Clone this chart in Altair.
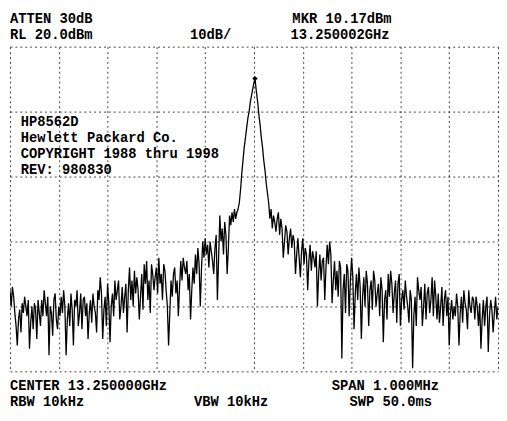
import altair as alt
import pandas as pd

# Sweep: offset from centre (kHz), 2.5 kHz per trace point (401 points over 1 MHz span)
FREQ_START_KHZ = -500
FREQ_STEP_KHZ = 2.5

# Trace levels in dBm (left to right)
seg_a = [-55, -60, -54, -57, -62, -66, -72, -64, -61, -68, -59, -62, -57, -60, -63, -58, -73, -65, -60, -67,
         -59, -61, -70, -58, -62, -66, -58, -63, -55, -59, -63, -57, -75, -60, -62, -69, -58, -56, -64, -67,
         -60, -63]
seg_b = [-57, -62, -55, -60, -75, -64, -59, -66, -56, -61, -72, -58, -60, -55, -66, -62, -56, -67, -58, -57,
         -63, -59, -70, -62, -58, -65, -56, -60, -62, -68, -55, -58, -51, -56, -70, -61, -57, -66, -53, -59]
seg_c = [-71, -60, -56, -63, -52, -58, -55, -52, -64, -60, -54, -62, -57, -53, -68, -55, -48, -58, -52, -60,
         -49, -56, -51, -55, -64, -57, -50, -61, -47, -53, -46, -58, -52, -62, -47, -50, -55, -51, -48, -56]
seg_d = [-45, -53, -50, -58, -47, -49, -55, -60, -72, -62, -52, -57, -50, -48, -56, -52, -63, -54, -46, -52,
         -45, -48, -50, -46, -55, -50, -64, -55, -48, -53, -44, -50, -42, -47, -60, -48, -40, -45, -39, -44,
         -41, -48, -40, -43, -46, -50, -42, -38, -58, -45, -32, -40, -36, -44, -34, -38, -50, -42, -32, -35]
seg_carrier = [-31, -34, -30, -33, -31, -30, -28, -24, -19, -15, -11, -8, -5, -2, 0, 3, 5, 7, 9, 9.5,
               6, 3, -1, -4, -8, -11, -15, -18, -22, -25, -28, -33]
seg_e = [-30, -36, -32, -34, -37, -33, -31, -38, -33, -36, -45, -40, -35, -37, -44, -39, -36, -42, -38, -40,
         -50, -44, -39, -45, -51, -43, -39, -47, -42, -44, -55, -46, -41, -49, -43, -45, -48, -43, -60, -50,
         -44, -52, -46, -45, -58, -48, -41, -47, -40, -44, -59, -52, -46, -55, -49, -57, -46, -48, -76, -55,
         -50, -62, -47, -49, -63, -52, -45, -51]
seg_f = [-67, -56, -50, -58, -48, -54, -70, -57, -51, -60, -49, -53, -66, -55, -52, -61, -49, -52, -60, -56,
         -53, -63, -51, -55, -71, -58, -55, -64, -50, -57, -49, -53, -62, -56, -52, -65, -53, -50, -66, -58]
seg_g = [-55, -61, -52, -57, -60, -65, -55, -58, -79, -63, -57, -66, -51, -55, -58, -54, -66, -60, -53, -64,
         -56, -54, -62, -58, -51, -63, -52, -57, -64, -56, -65, -60, -54, -66, -58, -55, -63, -57, -72, -62]
seg_h = [-58, -64, -60, -63, -56, -60, -72, -62, -57, -65, -55, -59, -61, -67, -55, -60, -62, -57, -58, -64,
         -57, -60, -66, -59, -73, -64, -58, -66, -60, -57, -74, -63, -58, -61, -68, -62, -57, -64, -60]
trace_dbm = seg_a + seg_b + seg_c + seg_d + seg_carrier + seg_e + seg_f + seg_g + seg_h
assert len(trace_dbm) == 401

# Marker (peak)
marker_freq_khz = [2]
marker_dbm = [10.17]

# Screen annotations
header_line1 = ["ATTEN 30dB", "MKR 10.17dBm"]
header_line2 = ["RL 20.0dBm", "10dB/", "13.250002GHz"]
inside_lines = ["HP8562D", "Hewlett Packard Co.", "COPYRIGHT 1988 thru 1998", "REV: 980830"]
footer_line1 = ["CENTER 13.250000GHz", "SPAN 1.000MHz"]
footer_line2 = ["RBW 10kHz", "VBW 10kHz", "SWP 50.0ms"]

freqs = [FREQ_START_KHZ + FREQ_STEP_KHZ * i for i in range(len(trace_dbm))]
trace = pd.DataFrame({"f": freqs + marker_freq_khz, "dbm": trace_dbm + marker_dbm}).sort_values("f")
marker = pd.DataFrame({"f": marker_freq_khz, "dbm": marker_dbm})

W, H = 496, 330
xscale = alt.Scale(domain=[-500, 500], nice=False, zero=False)
yscale = alt.Scale(domain=[-80, 20], nice=False, zero=False)
grid_kw = dict(grid=True, gridDash=[2, 3], gridColor="#000000", gridOpacity=0.75, gridWidth=1,
               labels=False, ticks=False, domain=False, title=None)
xaxis = alt.Axis(values=list(range(-500, 501, 100)), **grid_kw)
yaxis = alt.Axis(values=list(range(-80, 21, 10)), **grid_kw)

line = alt.Chart(trace).mark_line(color="#000000", strokeWidth=1.3, clip=True).encode(
    x=alt.X("f:Q", scale=xscale, axis=xaxis),
    y=alt.Y("dbm:Q", scale=yscale, axis=yaxis),
)
mk = alt.Chart(marker).mark_point(shape="diamond", filled=True, color="#000000", size=30, opacity=1).encode(
    x=alt.X("f:Q", scale=xscale),
    y=alt.Y("dbm:Q", scale=yscale),
)

FONT = "Liberation Mono"
FS = 14


def txt(s, px, py):
    return alt.Chart(pd.DataFrame({"t": [s]})).mark_text(
        font=FONT, fontSize=FS, fontWeight="bold", align="left", baseline="alphabetic", color="#000000"
    ).encode(text="t:N", x=alt.value(px), y=alt.value(py))


layers = [line, mk]
layers += [txt(header_line1[0], 0, -24), txt(header_line1[1], 287, -24)]
layers += [txt(header_line2[0], 0, -8), txt(header_line2[1], 183, -8), txt(header_line2[2], 285, -8)]
for i, s in enumerate(inside_lines):
    layers.append(txt(s, 11, 81 + i * 16.3))
layers += [txt(footer_line1[0], 0, 349), txt(footer_line1[1], 327, 349)]
layers += [txt(footer_line2[0], 0, 365), txt(footer_line2[1], 187, 365), txt(footer_line2[2], 345, 365)]

chart = alt.layer(*layers).properties(
    width=W, height=H,
    autosize=alt.AutoSizeParams(type="none"),
    padding={"left": 2, "top": 36, "right": 1, "bottom": 39},
    background="white",
).configure_view(stroke=None)

chart.save("out.html", embed_options={"renderer": "svg", "actions": False})
